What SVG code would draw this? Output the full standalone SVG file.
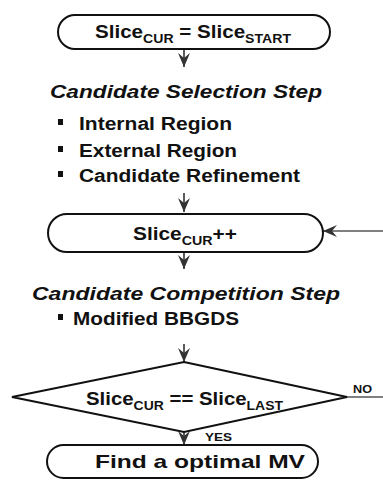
<svg xmlns="http://www.w3.org/2000/svg" width="383" height="481" viewBox="0 0 383 481">
<style>
.box{fill:#fff;stroke:#111;stroke-width:2}
.t{font-family:"Liberation Sans",Arial,sans-serif;font-weight:bold;fill:#111}
.main{font-size:19px}
.sub{font-size:13px}
.head{font-size:19px;font-style:italic}
.item{font-size:18px}
.lbl{font-size:11px}
.con{stroke:#333;stroke-width:1.6;fill:none}
.thin{stroke:#555;stroke-width:1.3;fill:none}
.bul{fill:#111}
</style>
<defs>
<marker id="ah" viewBox="0 0 14 12" refX="14" refY="6" markerWidth="14" markerHeight="12" markerUnits="userSpaceOnUse" orient="auto">
<path d="M0,0 L5,6 L0,12 L14,6 Z" fill="#333"/>
</marker>
</defs>

<g id="connectors">
<line class="con" x1="184" y1="49" x2="184" y2="67" marker-end="url(#ah)"/>
<line class="con" x1="184" y1="193" x2="184" y2="212" marker-end="url(#ah)"/>
<line class="con" x1="184" y1="252" x2="184" y2="269" marker-end="url(#ah)"/>
<line class="con" x1="184" y1="344" x2="184" y2="362" marker-end="url(#ah)"/>
<line class="con" x1="184" y1="432" x2="184" y2="445" marker-end="url(#ah)"/>
<line class="thin" x1="347" y1="397" x2="383" y2="397"/>
<line class="thin" x1="383" y1="231" x2="323" y2="231" marker-end="url(#ah)"/>
<text class="t lbl" x="353" y="393" textLength="19" lengthAdjust="spacingAndGlyphs">NO</text>
<text class="t lbl" x="205" y="441" textLength="27" lengthAdjust="spacingAndGlyphs">YES</text>
</g>

<g id="start">
<rect class="box" x="58" y="15" width="272" height="34" rx="17"/>
<text class="t main" x="95" y="38" textLength="196" lengthAdjust="spacingAndGlyphs">Slice<tspan class="sub" dy="5">CUR</tspan><tspan dy="-5"> = Slice</tspan><tspan class="sub" dy="5">START</tspan></text>
</g>

<g id="selection">
<text class="t head" x="50" y="98" textLength="272" lengthAdjust="spacingAndGlyphs">Candidate Selection Step</text>
<rect class="bul" x="58" y="119" width="5" height="6"/>
<text class="t item" x="79" y="130" textLength="153" lengthAdjust="spacingAndGlyphs">Internal Region</text>
<rect class="bul" x="58" y="146" width="5" height="6"/>
<text class="t item" x="79" y="157" textLength="158" lengthAdjust="spacingAndGlyphs">External Region</text>
<rect class="bul" x="58" y="171" width="5" height="6"/>
<text class="t item" x="79" y="182" textLength="221" lengthAdjust="spacingAndGlyphs">Candidate Refinement</text>
</g>

<g id="increment">
<rect class="box" x="48" y="214" width="275" height="38" rx="19"/>
<text class="t main" x="133" y="240" textLength="104" lengthAdjust="spacingAndGlyphs">Slice<tspan class="sub" dy="4.5">CUR</tspan><tspan dy="-4.5">++</tspan></text>
</g>

<g id="competition">
<text class="t head" x="32" y="300" textLength="308" lengthAdjust="spacingAndGlyphs">Candidate Competition Step</text>
<rect class="bul" x="58" y="314" width="5" height="6"/>
<text class="t item" x="73" y="325" textLength="166" lengthAdjust="spacingAndGlyphs">Modified BBGDS</text>
</g>

<g id="decision">
<polygon class="box" points="184,362 347,397 184,432 12,397"/>
<text class="t main" x="86" y="405" textLength="197" lengthAdjust="spacingAndGlyphs">Slice<tspan class="sub" dy="5">CUR</tspan><tspan dy="-5"> == Slice</tspan><tspan class="sub" dy="5">LAST</tspan></text>
</g>

<g id="end">
<rect class="box" x="47" y="445" width="271" height="33" rx="16.5"/>
<text class="t main" x="95" y="468" textLength="210" lengthAdjust="spacingAndGlyphs">Find a optimal MV</text>
</g>
</svg>
